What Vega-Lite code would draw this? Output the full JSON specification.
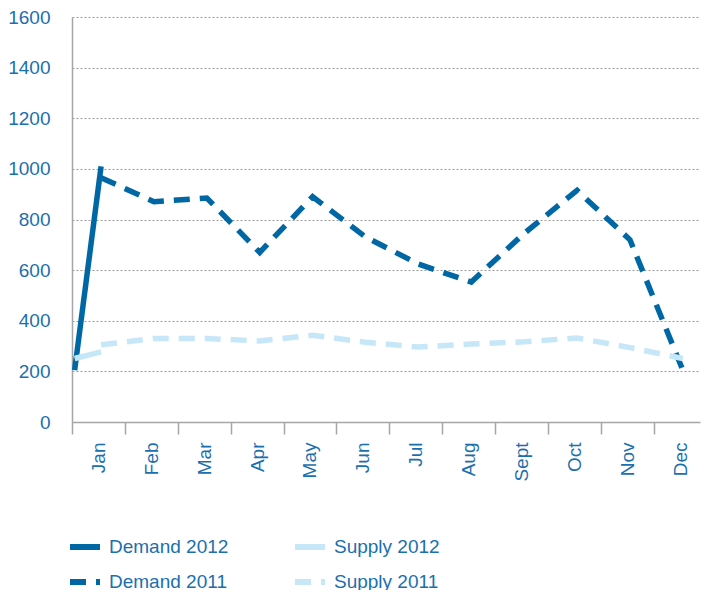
{
  "$schema": "https://vega.github.io/schema/vega-lite/v6.json",
  "autosize": {"type": "none"},
  "padding": {"left": 72, "top": 17, "right": 1, "bottom": 168},
  "width": 628,
  "height": 405,
  "background": "white",
  "config": {
    "font": "Liberation Sans",
    "view": {"stroke": null}
  },
  "data": {
    "values": [
      {"series": "Demand 2012", "month": 0.5, "value": 205},
      {"series": "Demand 2012", "month": 1, "value": 1010},
      {"series": "Demand 2011", "month": 1, "value": 965},
      {"series": "Demand 2011", "month": 2, "value": 870},
      {"series": "Demand 2011", "month": 3, "value": 885},
      {"series": "Demand 2011", "month": 4, "value": 670},
      {"series": "Demand 2011", "month": 5, "value": 890},
      {"series": "Demand 2011", "month": 6, "value": 731},
      {"series": "Demand 2011", "month": 7, "value": 624},
      {"series": "Demand 2011", "month": 8, "value": 553},
      {"series": "Demand 2011", "month": 9, "value": 745},
      {"series": "Demand 2011", "month": 10, "value": 915},
      {"series": "Demand 2011", "month": 11, "value": 720},
      {"series": "Demand 2011", "month": 12, "value": 205},
      {"series": "Supply 2012", "month": 0.5, "value": 251},
      {"series": "Supply 2012", "month": 1, "value": 277},
      {"series": "Supply 2011", "month": 1, "value": 305},
      {"series": "Supply 2011", "month": 2, "value": 330},
      {"series": "Supply 2011", "month": 3, "value": 330},
      {"series": "Supply 2011", "month": 4, "value": 320},
      {"series": "Supply 2011", "month": 5, "value": 343},
      {"series": "Supply 2011", "month": 6, "value": 315},
      {"series": "Supply 2011", "month": 7, "value": 296},
      {"series": "Supply 2011", "month": 8, "value": 308},
      {"series": "Supply 2011", "month": 9, "value": 317},
      {"series": "Supply 2011", "month": 10, "value": 332},
      {"series": "Supply 2011", "month": 11, "value": 294},
      {"series": "Supply 2011", "month": 12, "value": 251}
    ]
  },
  "mark": {"type": "line", "strokeWidth": 5.5, "strokeCap": "butt", "interpolate": "linear"},
  "encoding": {
    "x": {
      "field": "month",
      "type": "quantitative",
      "scale": {"domain": [0.45, 12.325], "nice": false, "zero": false},
      "axis": {
        "title": null,
        "values": [0.45, 1.45, 2.45, 3.45, 4.45, 5.45, 6.45, 7.45, 8.45, 9.45, 10.45, 11.45],
        "labelExpr": "['Jan','Feb','Mar','Apr','May','Jun','Jul','Aug','Sept','Oct','Nov','Dec'][round(datum.value - 0.45)]",
        "labelAngle": -90,
        "labelOffset": 26.44,
        "labelPadding": 8,
        "labelOverlap": false,
        "labelBound": false,
        "labelFlush": false,
        "labelFontSize": 19,
        "labelColor": "#1b6fae",
        "tickSize": 12,
        "tickColor": "#a6a6a6",
        "tickWidth": 1.5,
        "domainColor": "#a6a6a6",
        "domainWidth": 1.5,
        "grid": false
      }
    },
    "y": {
      "field": "value",
      "type": "quantitative",
      "scale": {"domain": [0, 1600], "nice": false},
      "axis": {
        "title": null,
        "format": "d",
        "values": [0, 200, 400, 600, 800, 1000, 1200, 1400, 1600],
        "grid": true,
        "gridDash": [2, 2],
        "gridColor": "#9a9a9a",
        "gridWidth": 1,
        "ticks": false,
        "tickSize": 0,
        "labelPadding": 22,
        "labelFontSize": 19,
        "labelColor": "#1b6fae",
        "domainColor": "#a6a6a6",
        "domainWidth": 1.5
      }
    },
    "color": {
      "field": "series",
      "type": "nominal",
      "scale": {
        "domain": ["Demand 2012", "Demand 2011", "Supply 2012", "Supply 2011"],
        "range": ["#0067a5", "#0067a5", "#c6e7f8", "#c6e7f8"]
      },
      "legend": {
        "title": null,
        "orient": "none",
        "legendX": -5,
        "legendY": 512,
        "columns": 2,
        "columnPadding": 54,
        "rowPadding": 5,
        "padding": 0,
        "symbolType": "stroke",
        "symbolSize": 900,
        "symbolStrokeWidth": 6,
        "labelFontSize": 19,
        "labelColor": "#1b6fae",
        "labelOffset": 6,
        "labelLimit": 300,
        "encode": {
          "symbols": {
            "update": {
              "strokeDash": {"signal": "indexof(datum.value, '2011') >= 0 ? [12, 7] : [1, 0]"}
            }
          }
        }
      }
    },
    "strokeDash": {
      "field": "series",
      "type": "nominal",
      "scale": {
        "domain": ["Demand 2012", "Demand 2011", "Supply 2012", "Supply 2011"],
        "range": [[1, 0], [16, 10], [1, 0], [16, 10]]
      },
      "legend": null
    },
    "order": {"field": "month", "type": "quantitative"}
  }
}
